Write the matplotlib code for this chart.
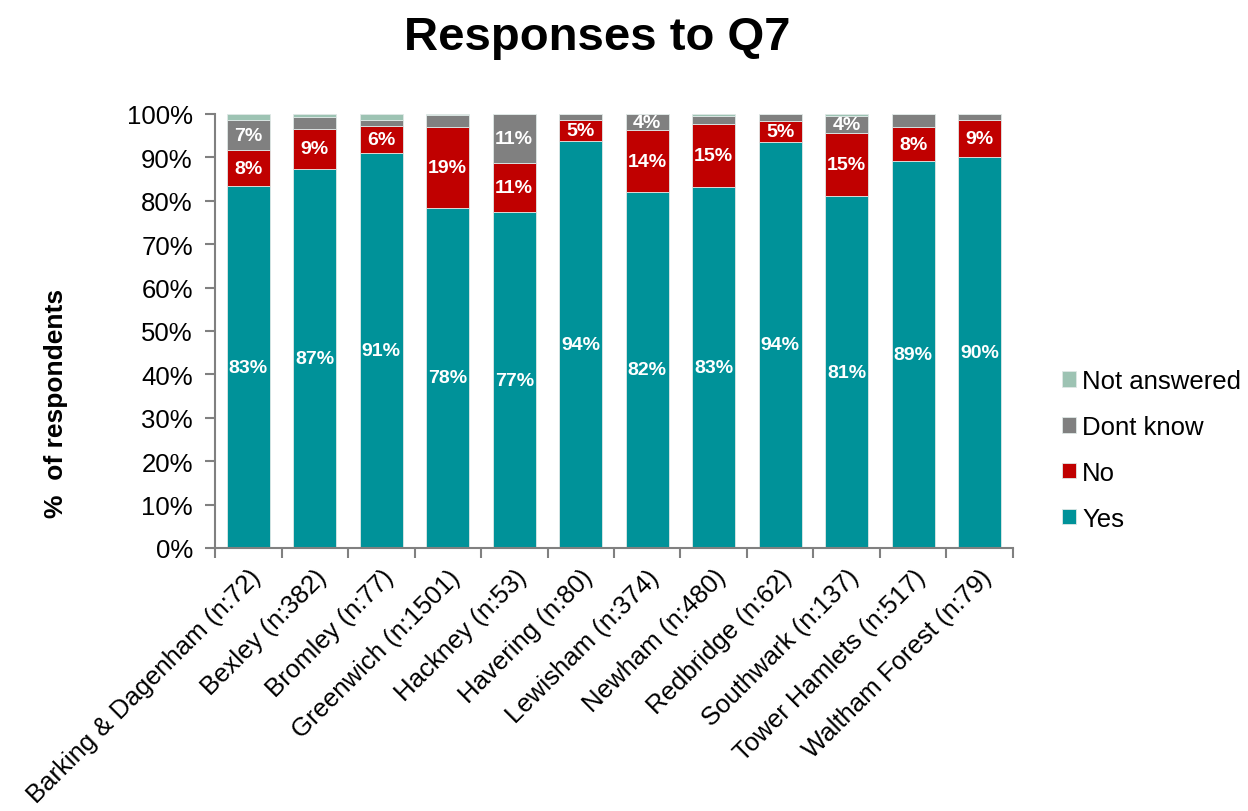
import numpy as np
import matplotlib.pyplot as plt
from matplotlib.ticker import FixedLocator, PercentFormatter

plt.rcParams['font.family'] = ['Liberation Sans', 'DejaVu Sans']

boroughs = ['Barking & Dagenham (n:72)', 'Bexley (n:382)', 'Bromley (n:77)',
            'Greenwich (n:1501)', 'Hackney (n:53)', 'Havering (n:80)',
            'Lewisham (n:374)', 'Newham (n:480)', 'Redbridge (n:62)',
            'Southwark (n:137)', 'Tower Hamlets (n:517)', 'Waltham Forest (n:79)']

yes = [83.4, 87.4, 90.9, 78.4, 77.4, 93.7, 82.1, 83.1, 93.6, 81.1, 89.2, 90.0]
no = [8.2, 9.2, 6.4, 18.7, 11.3, 5.0, 14.1, 14.6, 4.9, 14.6, 7.7, 8.7]
dont_know = [7.0, 2.8, 1.4, 2.7, 11.3, 1.3, 3.8, 1.8, 1.5, 3.8, 3.1, 1.3]
not_answered = [1.4, 0.6, 1.3, 0.2, 0.0, 0.0, 0.0, 0.5, 0.0, 0.5, 0.0, 0.0]

series = [('Yes', yes, '#009299'),
          ('No', no, '#C00000'),
          ('Dont know', dont_know, '#808080'),
          ('Not answered', not_answered, '#9DC3B3')]

fig = plt.figure(figsize=(12.48, 8.12), dpi=100)
ax = fig.add_axes([215 / 1248, 1 - 549 / 812, 798 / 1248, 434 / 812])

x = np.arange(len(boroughs))
bottom = np.zeros(len(boroughs))
for name, vals, col in series:
    vals = np.array(vals)
    ax.bar(x, vals, 0.65, bottom=bottom, color=col, label=name,
           edgecolor='#dfe8e6', linewidth=0.6)
    # only label segments big enough to hold the text
    for xi, b, v in zip(x, bottom, vals):
        if v >= 3.5:
            ax.text(xi, b + v / 2, f'{v:.0f}%', ha='center', va='center',
                    color='white', fontsize=14, fontweight='bold')
    bottom += vals

ax.set_xlim(-0.5, len(boroughs) - 0.5)
ax.set_ylim(0, 100)
ax.yaxis.set_major_locator(FixedLocator(np.arange(0, 101, 10)))
ax.yaxis.set_major_formatter(PercentFormatter(decimals=0))
ax.tick_params(axis='y', labelsize=18.5, length=7, width=1.5, color='#808080', pad=9)

ax.set_xticks(x)
ax.set_xticklabels(boroughs, rotation=45, ha='right', rotation_mode='anchor', fontsize=18.5)
ax.tick_params(axis='x', which='major', length=0, pad=12)
ax.xaxis.set_minor_locator(FixedLocator(np.arange(-0.5, len(boroughs), 1)))
ax.tick_params(axis='x', which='minor', length=7, width=1.5, color='#808080')

for side in ['top', 'right']:
    ax.spines[side].set_visible(False)
for side in ['left', 'bottom']:
    ax.spines[side].set_color('#808080')
    ax.spines[side].set_linewidth(1.5)

fig.text(56 / 1248, 1 - 403 / 812, '%  of respondents', rotation=90,
         ha='center', va='center', fontsize=19, fontweight='bold')

h, l = ax.get_legend_handles_labels()
ax.legend(h[::-1], l[::-1], loc='center left', bbox_to_anchor=(1.032, 0.226),
          frameon=False, fontsize=18.5, handlelength=0.55, handleheight=0.55,
          handletextpad=0.25, labelspacing=0.85)

fig.text(597 / 1248, 1 - 38 / 812, 'Responses to Q7', ha='center', va='center',
         fontsize=34, fontweight='bold')

fig.savefig('out.png', dpi=100)
